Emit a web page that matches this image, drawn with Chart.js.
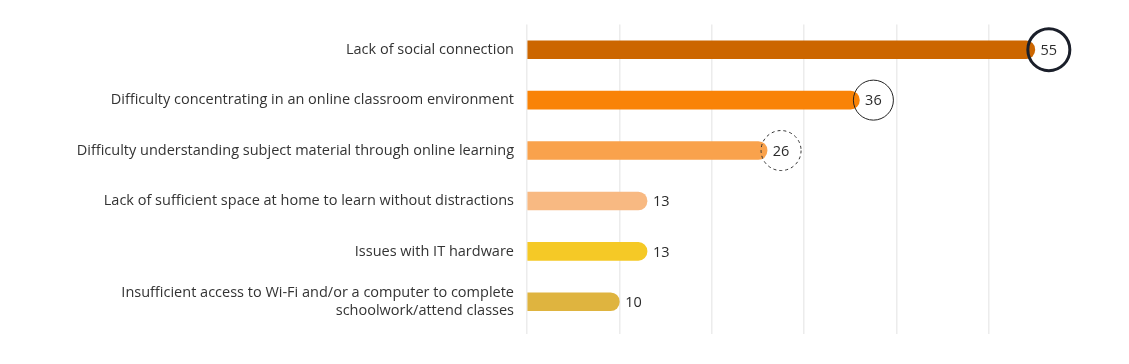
<!DOCTYPE html>
<html>
<head>
<meta charset="utf-8">
<script src="https://cdn.jsdelivr.net/npm/chart.js@4.4.1/dist/chart.umd.min.js"></script>
<style>
  html, body { margin: 0; padding: 0; background: #fff; }
  #wrap { width: 1129px; height: 364px; position: relative; }
</style>
</head>
<body>
<div id="wrap"><canvas id="chart"></canvas></div>
<script>
const categories = [
    'Lack of social connection',
    'Difficulty concentrating in an online classroom environment',
    'Difficulty understanding subject material through online learning',
    'Lack of sufficient space at home to learn without distractions',
    'Issues with IT hardware',
    ['Insufficient access to Wi-Fi and/or a computer to complete', 'schoolwork/attend classes']
];
const values = [55, 36, 26, 13, 13, 10];
const barColors = ['#cc6600', '#f98307', '#f9a24c', '#f8b982', '#f5c926', '#dfb43f'];
const xTicks = [0, 10, 20, 30, 40, 50];

// how the value label is wrapped: 'bold' ring, 'thin' ring, 'dashed' ring, or none
const ringStyles = ['bold', 'thin', 'dashed', null, null, null];

const valueLabels = {
    id: 'valueLabels',
    afterDatasetsDraw(chart) {
        const ctx = chart.ctx;
        const meta = chart.getDatasetMeta(0);
        meta.data.forEach((bar, i) => {
            const ring = ringStyles[i];
            ctx.save();
            ctx.font = '500 14.5px "Open Sans", sans-serif';
            ctx.fillStyle = '#2b2b2b';
            ctx.textBaseline = 'middle';
            if (ring) {
                const cx = bar.x + 14;
                const r = ring === 'bold' ? 21 : 20;
                ctx.beginPath();
                ctx.arc(cx, bar.y, r, 0, Math.PI * 2);
                if (ring === 'bold') {
                    ctx.lineWidth = 3;
                    ctx.strokeStyle = '#1b1f2a';
                } else if (ring === 'thin') {
                    ctx.lineWidth = 1;
                    ctx.strokeStyle = '#222';
                } else {
                    ctx.lineWidth = 1;
                    ctx.strokeStyle = '#333';
                    ctx.setLineDash([3, 3]);
                }
                ctx.stroke();
                ctx.textAlign = 'center';
                ctx.fillText(values[i], cx, bar.y + 1);
            } else {
                ctx.textAlign = 'left';
                ctx.fillText(values[i], bar.x + 6, bar.y + 1);
            }
            ctx.restore();
        });
    }
};

new Chart(document.getElementById('chart'), {
    type: 'bar',
    data: {
        labels: categories,
        datasets: [{
            data: values,
            backgroundColor: barColors,
            borderWidth: 0,
            borderRadius: 9,
            barThickness: 18
        }]
    },
    options: {
        indexAxis: 'y',
        responsive: true,
        maintainAspectRatio: false,
        animation: false,
        layout: { padding: { top: 24.5, right: 48, bottom: 30, left: 0 } },
        plugins: {
            legend: { display: false },
            tooltip: { enabled: false }
        },
        scales: {
            x: {
                min: 0,
                max: 60,
                afterBuildTicks: (scale) => {
                    scale.ticks = xTicks.map(v => ({ value: v }));
                },
                ticks: { display: false },
                border: { display: false },
                grid: {
                    color: '#ececec',
                    lineWidth: 1.5,
                    drawTicks: true,
                    tickLength: 7
                }
            },
            y: {
                afterFit: (scale) => {
                    scale.width = 527;
                    scale.paddingTop = 0;
                    scale.paddingBottom = 0;
                },
                border: { display: false },
                grid: { display: false, drawTicks: false },
                ticks: {
                    padding: 13,
                    color: '#333',
                    font: { family: '"Open Sans", sans-serif', size: 14.5, lineHeight: 1.2 }
                }
            }
        }
    },
    plugins: [valueLabels]
});
</script>
</body>
</html>
